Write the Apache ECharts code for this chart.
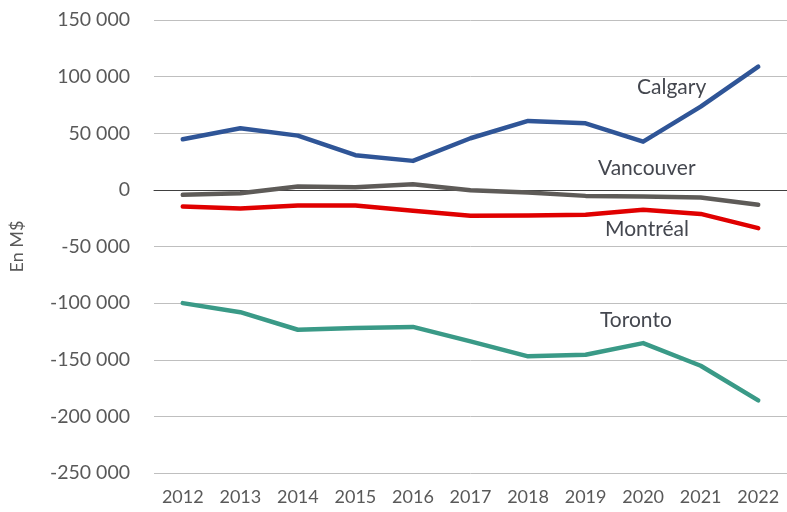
<!DOCTYPE html>
<html>
<head>
<meta charset="utf-8">
<script src="https://cdn.jsdelivr.net/npm/echarts@6/dist/echarts.min.js"></script>
<style>
  html, body { margin: 0; padding: 0; background: #fff; }
  #chart { width: 787px; height: 512px; }
</style>
</head>
<body>
<div id="chart"></div>
<script>
var years = ['2012', '2013', '2014', '2015', '2016', '2017', '2018', '2019', '2020', '2021', '2022'];
var calgary = [44700, 54400, 47900, 30600, 25600, 45600, 60900, 58800, 42600, 73500, 108800];
var vancouver = [-4400, -2900, 2900, 2400, 5000, -300, -2400, -5300, -5900, -6800, -13200];
var montreal = [-14700, -16500, -13800, -13800, -18500, -22800, -22600, -22000, -17600, -21200, -33800];
var toronto = [-100000, -108000, -123500, -122000, -121000, -133800, -147000, -145600, -135300, -155300, -185900];

var FONT = 'Lato, "Open Sans", sans-serif';

function fmt(v) {
    var s = Math.abs(v).toString().replace(/\B(?=(\d{3})+(?!\d))/g, ' ');
    return (v < 0 ? '-' : '') + s;
}

function line(name, data, color) {
    return {
        name: name,
        type: 'line',
        data: data,
        symbol: 'none',
        smooth: false,
        lineStyle: {color: color, width: 4.5, cap: 'round', join: 'round'},
        itemStyle: {color: color}
    };
}

var myChart = echarts.init(document.getElementById('chart'));
myChart.setOption({
    animation: false,
    grid: {left: 150, right: -7, top: 20, bottom: 39},
    xAxis: {
        type: 'category',
        data: years,
        boundaryGap: true,
        axisLine: {show: true, onZero: true, lineStyle: {color: '#404040', width: 1}},
        axisTick: {show: false},
        axisLabel: {
            color: '#595959', fontSize: 18, fontFamily: FONT, margin: 15,
            showMinLabel: true, showMaxLabel: true
        },
        splitLine: {show: false}
    },
    yAxis: {
        type: 'value',
        min: -250000,
        max: 150000,
        interval: 50000,
        name: 'En M$',
        nameLocation: 'middle',
        nameGap: 128,
        nameRotate: 90,
        nameTextStyle: {color: '#595959', fontSize: 18, fontFamily: FONT},
        axisLine: {show: false},
        axisTick: {show: false},
        axisLabel: {
            color: '#595959', fontSize: 19.5, fontFamily: FONT, margin: 24,
            formatter: fmt
        },
        splitLine: {lineStyle: {color: '#bfbfbf', width: 1}}
    },
    series: [
        line('Calgary', calgary, '#2F5597'),
        line('Vancouver', vancouver, '#5E5B58'),
        line('Montréal', montreal, '#E00000'),
        line('Toronto', toronto, '#3A9A87')
    ],
    graphic: [
        {type: 'text', left: 637, top: 77, style: {text: 'Calgary', fill: '#44474f', font: '21px ' + FONT}},
        {type: 'text', left: 598, top: 158, style: {text: 'Vancouver', fill: '#44474f', font: '21px ' + FONT}},
        {type: 'text', left: 605, top: 219, style: {text: 'Montréal', fill: '#44474f', font: '21px ' + FONT}},
        {type: 'text', left: 600, top: 310, style: {text: 'Toronto', fill: '#44474f', font: '21px ' + FONT}}
    ]
});
</script>
</body>
</html>
